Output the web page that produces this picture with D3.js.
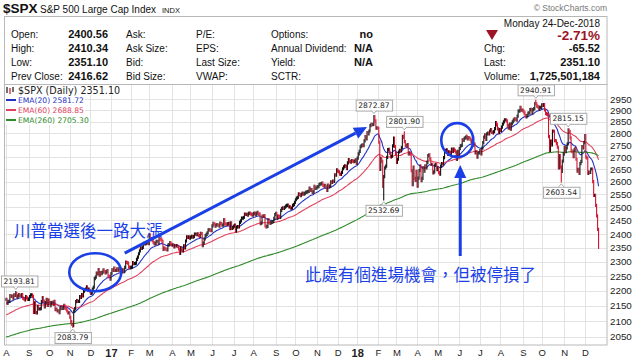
<!DOCTYPE html>
<html><head><meta charset="utf-8">
<script src="https://cdn.jsdelivr.net/npm/d3@7"></script>
<style>body{margin:0;background:#fff}svg{display:block}</style>
</head><body>
<svg id="c" width="640" height="359"></svg>
<script>
// ---------------- DATA ----------------
const monthLabels = ["A","S","O","N","D","17","F","M","A","M","J","J","A","S","O","N","D","18","F","M","A","M","J","J","A","S","O","N","D"];
const monthDays = [23,21,21,21,21,20,19,23,19,22,22,20,23,20,22,21,20,21,19,21,21,22,21,21,23,19,23,21,15];
const closes = [
2171,2157,2164,2164,2183,2181,2182,2175,2186,2184,2190,2178,2182,2187,2184,2183,2187,2175,2172,2169,2180,2176,2171,
2171,2180,2186,2186,2181,2128,2159,2127,2126,2147,2139,2139,2140,2163,2177,2165,2146,2160,2171,2151,2168,
2161,2150,2160,2161,2154,2164,2137,2139,2133,2133,2127,2140,2144,2141,2141,2151,2143,2139,2133,2126,2126,
2112,2098,2089,2085,2132,2140,2163,2167,2164,2164,2180,2177,2187,2182,2198,2203,2205,2213,2202,2205,2199,
2191,2192,2205,2212,2241,2246,2260,2257,2272,2253,2262,2258,2263,2271,2265,2261,2264,2269,2250,2249,2239,
2258,2271,2269,2277,2269,2269,2275,2270,2275,2268,2272,2264,2271,2265,2280,2298,2297,2295,2281,2279,
2280,2281,2297,2293,2293,2295,2308,2316,2328,2338,2349,2347,2351,2365,2363,2364,2367,2370,2364,
2396,2382,2383,2375,2368,2363,2365,2373,2373,2365,2385,2381,2378,2373,2344,2348,2346,2344,2342,2359,2361,2368,2363,
2359,2360,2353,2357,2356,2357,2354,2345,2329,2349,2342,2338,2356,2349,2374,2389,2387,2389,2384,
2388,2391,2388,2390,2399,2399,2397,2400,2394,2391,2402,2401,2357,2366,2382,2394,2398,2404,2415,2416,2413,2412,
2430,2439,2436,2429,2433,2434,2432,2429,2440,2438,2432,2433,2453,2437,2436,2435,2438,2439,2419,2441,2420,2423,
2429,2433,2410,2425,2427,2426,2443,2448,2459,2459,2461,2474,2473,2473,2470,2477,2478,2475,2472,2470,
2476,2478,2472,2477,2481,2475,2474,2438,2441,2466,2465,2468,2430,2426,2428,2453,2444,2439,2443,2444,2446,2458,2472,
2477,2458,2466,2465,2461,2488,2496,2498,2496,2500,2504,2507,2508,2501,2502,2497,2497,2507,2510,2519,
2529,2535,2538,2552,2549,2545,2551,2555,2551,2553,2558,2559,2561,2562,2575,2565,2569,2557,2560,2581,2573,2575,
2579,2580,2588,2591,2591,2594,2585,2582,2585,2579,2565,2586,2579,2582,2599,2597,2602,2601,2627,2626,2648,
2642,2639,2630,2629,2637,2652,2660,2664,2663,2652,2676,2690,2681,2679,2685,2683,2681,2683,2688,2674,
2696,2713,2724,2743,2748,2751,2748,2768,2786,2776,2803,2798,2810,2833,2839,2838,2839,2873,2854,2822,2824,
2822,2762,2649,2695,2682,2581,2620,2656,2663,2699,2731,2732,2716,2701,2704,2747,2780,2744,2714,
2678,2691,2721,2728,2727,2739,2787,2783,2765,2749,2747,2752,2713,2717,2712,2644,2588,2659,2613,2605,2641,
2582,2614,2645,2663,2604,2613,2657,2642,2664,2656,2678,2706,2709,2693,2670,2670,2635,2639,2667,2670,2648,
2655,2636,2630,2663,2673,2672,2698,2723,2728,2730,2711,2722,2720,2713,2733,2724,2733,2728,2721,2690,2724,2705,
2735,2747,2749,2772,2770,2779,2782,2787,2776,2782,2780,2774,2763,2767,2750,2755,2717,2723,2700,2716,2718,
2727,2713,2737,2760,2784,2794,2774,2798,2801,2798,2810,2816,2804,2802,2807,2820,2846,2837,2819,2803,2816,
2813,2827,2840,2850,2858,2858,2854,2833,2822,2840,2818,2841,2850,2857,2863,2862,2857,2875,2897,2898,2914,2901,2902,
2897,2889,2878,2872,2877,2888,2889,2904,2905,2889,2904,2908,2931,2930,2919,2916,2906,2914,2914,
2925,2923,2926,2902,2886,2884,2880,2786,2728,2767,2751,2810,2809,2769,2768,2756,2741,2656,2706,2659,2641,2683,2712,
2740,2723,2738,2755,2814,2807,2781,2726,2722,2702,2730,2736,2691,2642,2650,2633,2673,2682,2744,2738,2760,
2790,2700,2696,2633,2638,2637,2651,2651,2600,2546,2546,2507,2467,2417,2351
];
const yTicks = [2050,2100,2150,2200,2250,2300,2350,2400,2450,2500,2550,2600,2650,2700,2750,2800,2850,2900,2950];
const emaPeriods = [20, 60, 260];
const emaSeeds = [2158, 2118, 2048];
const emaColors = ["#2233c4", "#e0425e", "#2f8a2a"];
const emaLegend = ["EMA(20) 2581.72", "EMA(60) 2688.85", "EMA(260) 2705.30"];
const markIdx = [10, 68, 375, 385, 406, 540, 566, 573];
const markVal = [2193.81, 2083.79, 2872.87, 2532.69, 2801.90, 2940.91, 2603.54, 2815.15];
const markIsHigh = [true, false, true, false, true, true, false, true];

// ---------------- SETUP ----------------
const svg = d3.select("#c");
const AR = "'Liberation Sans', Arial, sans-serif";
const VD = "'DejaVu Sans', Verdana, sans-serif";
const CJK = "'Noto Sans CJK TC', 'Noto Sans CJK SC', sans-serif";
const BLUE = "#1b3fe6";
const plot = {l: 4.5, r: 607, t: 84.5, b: 345};

const x = d3.scaleLinear().domain([0, 613]).range([6, 607.4]);
const y = d3.scaleLog().domain([2050, 2950]).range([336.7, 99.3]);

function text(g, px, py, s, o = {}) {
  return g.append("text").attr("x", px).attr("y", py).text(s)
    .attr("font-family", o.ff || AR).attr("font-size", o.fs || 10)
    .attr("font-weight", o.fw || "normal").attr("fill", o.c || "#111")
    .attr("text-anchor", o.a || "start");
}

// ---------------- HEADER ----------------
const H = svg.append("g");
text(H, 3, 13, "$SPX", {fs: 13.5, fw: "bold"});
text(H, 40, 13, "S&P 500 Large Cap Index", {fs: 10});
text(H, 162, 13, "INDX", {fs: 7.5});
text(H, 607, 11, "© StockCharts.com", {fs: 8.5, c: "#777", a: "end"});
H.append("rect").attr("x", 4.5).attr("y", 16.5).attr("width", 602.5).attr("height", 68)
  .attr("fill", "#fff").attr("stroke", "#b8b8b8");
text(H, 600, 26.5, "Monday  24-Dec-2018", {fs: 10, a: "end"});
const rows = [38, 52, 66, 80];
const c1 = ["Open:", "High:", "Low:", "Prev Close:"];
const v1 = ["2400.56", "2410.34", "2351.10", "2416.62"];
const c2 = ["Ask:", "Ask Size:", "Bid:", "Bid Size:"];
const c3 = ["P/E:", "EPS:", "Last Size:", "VWAP:"];
const c4 = ["Options:", "Annual Dividend:", "Yield:", "SCTR:"];
const v4 = ["no", "N/A", "N/A", ""];
rows.forEach((ry, i) => {
  text(H, 11, ry, c1[i]);
  text(H, 108, ry, v1[i], {fs: 11, fw: "bold", a: "end"});
  text(H, 126, ry, c2[i]);
  text(H, 196, ry, c3[i]);
  text(H, 271, ry, c4[i]);
  text(H, 373, ry, v4[i], {fs: 11, fw: "bold", a: "end"});
});
H.append("path").attr("d", "M486,30 L498,30 L492,40 Z").attr("fill", "#9c1326");
text(H, 600, 40, "-2.71%", {fs: 13.5, fw: "bold", c: "#9c1326", a: "end"});
text(H, 484, 52, "Chg:");
text(H, 600, 52, "-65.52", {fs: 11, fw: "bold", a: "end"});
text(H, 484, 66, "Last:");
text(H, 600, 66, "2351.10", {fs: 11, fw: "bold", a: "end"});
text(H, 484, 80, "Volume:");
text(H, 600, 80, "1,725,501,184", {fs: 11, fw: "bold", a: "end"});

// ---------------- PLOT FRAME & GRID ----------------
svg.append("rect").attr("x", plot.l).attr("y", plot.t).attr("width", plot.r - plot.l).attr("height", plot.b - plot.t)
  .attr("fill", "#fff");
const monthStarts = [];
monthDays.reduce((acc, d) => { monthStarts.push(acc); return acc + d; }, 0);

const grid = svg.append("g").attr("stroke", "#e3e3e3").attr("stroke-width", 1);
monthStarts.forEach(i => {
  const gx = Math.round(x(i)) + 0.5;
  grid.append("line").attr("x1", gx).attr("x2", gx).attr("y1", plot.t).attr("y2", plot.b);
});
yTicks.forEach(v => {
  const gy = Math.round(y(v)) + 0.5;
  grid.append("line").attr("x1", plot.l).attr("x2", plot.r).attr("y1", gy).attr("y2", gy);
});

svg.append("defs").append("clipPath").attr("id", "clip").append("rect")
  .attr("x", plot.l).attr("y", plot.t).attr("width", plot.r - plot.l).attr("height", plot.b - plot.t);
const P = svg.append("g").attr("clip-path", "url(#clip)");

// ---------------- EMAs ----------------
emaPeriods.forEach((n, k) => {
  const a = 2 / (n + 1);
  let e = emaSeeds[k];
  const vals = closes.map(c => (e = e + a * (c - e)));
  P.append("path").datum(vals)
    .attr("d", d3.line().x((d, i) => x(i)).y(d => y(d)))
    .attr("fill", "none").attr("stroke", emaColors[k]).attr("stroke-width", 1.1);
});

// ---------------- PRICE BARS ----------------
closes.forEach((c, i) => {
  const prev = i > 0 ? closes[i - 1] : c;
  let hi = Math.max(prev, c), lo = Math.min(prev, c);
  const m = markIdx.indexOf(i);
  if (m >= 0) { if (markIsHigh[m]) hi = Math.max(hi, markVal[m]); else lo = Math.min(lo, markVal[m]); }
  P.append("line").attr("x1", x(i)).attr("x2", x(i))
    .attr("y1", y(hi) - 1.6).attr("y2", y(lo) + 1.6)
    .attr("stroke", c >= prev ? "#111" : "#d4112c").attr("stroke-width", 1.1);
});

// plot border
svg.append("rect").attr("x", plot.l).attr("y", plot.t).attr("width", plot.r - plot.l).attr("height", plot.b - plot.t)
  .attr("fill", "none").attr("stroke", "#b8b8b8");

// ---------------- AXES ----------------
const yAxis = svg.append("g").attr("transform", `translate(${plot.r},0)`)
  .call(d3.axisRight(y).tickValues(yTicks).tickFormat(d3.format("d")).tickSize(0).tickPadding(3));
yAxis.select(".domain").remove();
yAxis.selectAll("text").attr("font-family", AR).attr("font-size", 9.8).attr("fill", "#222");

const xAxis = svg.append("g").attr("transform", `translate(0,${plot.b})`)
  .call(d3.axisBottom(x).tickValues(monthStarts).tickFormat((d, i) => monthLabels[i]).tickSize(0).tickPadding(4));
xAxis.select(".domain").remove();
xAxis.selectAll("text").attr("font-family", AR).attr("fill", "#222")
  .attr("font-weight", (d, i) => /\d/.test(monthLabels[i]) ? "bold" : "normal")
  .attr("font-size", (d, i) => /\d/.test(monthLabels[i]) ? 11 : 9.5);

// ---------------- VALUE CALLOUTS ----------------
markIdx.forEach((idx, k) => {
  const px = x(idx), py = y(markVal[k]);
  const g = svg.append("g");
  const t = g.append("text").text(markVal[k].toFixed(2)).attr("font-family", VD).attr("font-size", 7.6)
    .attr("fill", "#222").attr("text-anchor", "middle");
  const w = t.node().getComputedTextLength() + 5, h = 11;
  let bx = Math.max(1, px - w / 2);
  const by = markIsHigh[k] ? py - 6 - h : py + 6;
  t.attr("x", bx + w / 2).attr("y", by + 8.3);
  const tail = markIsHigh[k] ? `M${px - 2.5},${by + h} L${px},${by + h + 3} L${px + 2.5},${by + h}` :
                               `M${px - 2.5},${by} L${px},${by - 3} L${px + 2.5},${by}`;
  g.insert("rect", "text").attr("x", bx + 0.5).attr("y", by + 0.5).attr("width", w).attr("height", h)
    .attr("fill", "#fff").attr("stroke", "#aaa");
  g.append("path").attr("d", tail).attr("fill", "#fff").attr("stroke", "#aaa");
});

// ---------------- LEGEND ----------------
const L = svg.append("g");
const legendLines = [{s: "$SPX (Daily) 2351.10", c: "#222", fs: 9.6, yb: 93.5}]
  .concat(emaLegend.map((s, k) => ({s, c: emaColors[k], fs: 7.6, yb: 103 + k * 10})));
legendLines.forEach((d, k) => {
  const t = text(L, 18, d.yb, d.s, {ff: VD, fs: d.fs, c: d.c});
  const w = t.node().getComputedTextLength();
  L.insert("rect", "text").attr("x", 5).attr("y", d.yb - 8).attr("width", w + 14).attr("height", 10).attr("fill", "#fff");
  if (k > 0) L.append("line").attr("x1", 6).attr("x2", 16).attr("y1", d.yb - 3).attr("y2", d.yb - 3)
    .attr("stroke", d.c).attr("stroke-width", 2);
});
[[7, 87, 93, "#111"], [10, 88, 94, "#d4112c"], [13, 87, 92, "#111"]].forEach(([ix, a, b, c]) => {
  L.append("line").attr("x1", ix).attr("x2", ix).attr("y1", a).attr("y2", b).attr("stroke", c).attr("stroke-width", 1.2);
});

// ---------------- ANNOTATIONS (anchored in data space) ----------------
const A = svg.append("g");
const ell1 = {i: 91, p: 2263}, ell2 = {i: 460, p: 2771};
A.append("ellipse").attr("cx", x(ell1.i)).attr("cy", y(ell1.p)).attr("rx", 26).attr("ry", 19)
  .attr("fill", "none").attr("stroke", BLUE).attr("stroke-width", 2.6);
A.append("ellipse").attr("cx", x(ell2.i)).attr("cy", y(ell2.p)).attr("rx", 16).attr("ry", 17)
  .attr("fill", "none").attr("stroke", BLUE).attr("stroke-width", 2.6);

function arrow(i0, p0, i1, p1) {
  const x0 = x(i0), y0 = y(p0), x1 = x(i1), y1 = y(p1);
  const ang = Math.atan2(y1 - y0, x1 - x0), len = 13, hw = 6;
  const bx = x1 - len * Math.cos(ang), by = y1 - len * Math.sin(ang);
  A.append("line").attr("x1", x0).attr("y1", y0).attr("x2", bx).attr("y2", by)
    .attr("stroke", BLUE).attr("stroke-width", 3);
  A.append("path").attr("d", `M${x1},${y1} L${bx - hw * Math.sin(ang)},${by + hw * Math.cos(ang)} L${bx + hw * Math.sin(ang)},${by - hw * Math.cos(ang)} Z`)
    .attr("fill", BLUE);
}
arrow(121, 2330, 368, 2827);
arrow(463, 2320, 463, 2667);

text(A, 14, y(2388), "川普當選後一路大漲", {ff: CJK, fs: 16.5, c: BLUE});
text(A, 305, y(2232), "此處有個進場機會，但被停損了", {ff: CJK, fs: 16.5, c: BLUE});
</script>
</body></html>
